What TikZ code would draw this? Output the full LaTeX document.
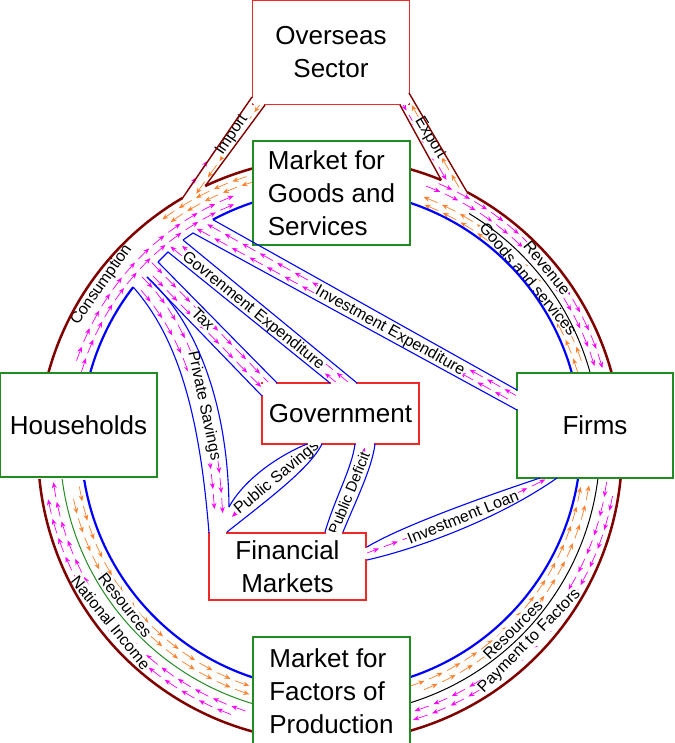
\documentclass[tikz,border=0pt]{standalone}
\usepackage{fontspec}
\setmainfont{Liberation Sans}
\usepackage{tikz}
\usetikzlibrary{calc}
\usetikzlibrary{arrows.meta}
\usetikzlibrary{decorations.markings}
\definecolor{mag}{RGB}{255,0,255}
\definecolor{org}{RGB}{255,127,42}
\definecolor{brn}{RGB}{128,0,0}
\definecolor{grn}{RGB}{34,139,34}
\definecolor{redb}{RGB}{240,40,40}
\tikzset{>=latex}
\tikzset{
  flowrow/.style n args={3}{decorate, decoration={markings,
      mark=between positions #2 and 1 step #3 with {\draw[#1, line width=0.7pt, -{Stealth[length=6pt,width=4.8pt]}] (-8pt,0) -- (7pt,0);}}},
  sector/.style={draw=grn, fill=white, line width=1.2pt, minimum width=157pt, inner sep=0pt, align=center, font=\fontsize{26}{33}\selectfont},
  sectorr/.style={sector, draw=redb},
  lab/.style={fill=white, inner sep=0.8pt, font=\fontsize{16}{19}\selectfont},
  chan/.style={draw=blue, line width=1.1pt},
  ringb/.style={draw=blue, line width=2.2pt},
  ringo/.style={draw=brn, line width=2.5pt},
  walled/.style={draw=brn, line width=1.4pt},
  opening/.style={draw=white, line width=2pt}
}

\begin{document}
\begin{tikzpicture}[x=1pt, y=1pt]
\useasboundingbox (0,0) rectangle (674,743);
\coordinate (Co) at (330,293);
\coordinate (Ci) at (331,303);
\coordinate (Cm) at (330,298);

% flows round the ring
\foreach \r/\p in {279/0.02, 287/0.06}
  \path[flowrow={mag}{\p}{20pt}] (Cm) ++(252:\r) arc[start angle=252, end angle=189, radius=\r];
\foreach \r/\p in {254/0.02, 262/0.06}
  \path[flowrow={org}{\p}{20pt}] (Cm) ++(190:\r) arc[start angle=190, end angle=251, radius=\r];
\foreach \r/\p in {254/0.02, 262/0.06}
  \path[flowrow={org}{\p}{20pt}] (Cm) ++(289:\r) arc[start angle=289, end angle=351, radius=\r];
\foreach \r/\p in {279/0.02, 287/0.06}
  \path[flowrow={mag}{\p}{20pt}] (Cm) ++(352:\r) arc[start angle=352, end angle=288, radius=\r];
\foreach \r/\p in {258/0.02, 265/0.06}
  \path[flowrow={org}{\p}{20pt}] (Cm) ++(17:\r) arc[start angle=17, end angle=71, radius=\r];
\foreach \r/\p in {276/0.02, 283/0.06}
  \path[flowrow={mag}{\p}{20pt}] (Cm) ++(69:\r) arc[start angle=69, end angle=16, radius=\r];
\foreach \r/\p in {259/0.02, 267/0.06}
  \path[flowrow={mag}{\p}{20pt}] (Cm) ++(163:\r) arc[start angle=163, end angle=111, radius=\r];
\foreach \r/\p in {274/0.02, 281/0.1}
  \path[flowrow={org}{\p}{20pt}] (Cm) ++(107:\r) arc[start angle=107, end angle=126, radius=\r];

% import and export
\path[flowrow={org}{0.04}{20pt}] (261,640) -- (196,549);
\path[flowrow={mag}{0.1}{20pt}] (189,555) -- (222,603);
\path[flowrow={org}{0.04}{20pt}] (457,559) -- (407,646);
\path[flowrow={mag}{0.04}{20pt}] (401,642) -- (451,555);

% flows in the channels
\path[flowrow={mag}{0.02}{20pt}] (517,347) -- (205,520);
\path[flowrow={mag}{0.05}{20pt}] (517,339) -- (201,512);
\path[flowrow={mag}{0.02}{20pt}] (345.5,363) -- (178.5,500);
\path[flowrow={mag}{0.06}{20pt}] (340.5,357) -- (173.5,494);
\path[flowrow={mag}{0.02}{20pt}] (155,477) -- (273,356);
\path[flowrow={mag}{0.08}{20pt}] (149,471) -- (267,350);
\path[flowrow={mag}{0.02}{20pt}] (144,464) .. controls (194,414) and (218,330) .. (223,223);
\path[flowrow={mag}{0.06}{20pt}] (136,458) .. controls (186,406) and (210,326) .. (215,223);
\path[flowrow={mag}{0.03}{20pt}] (315,299) .. controls (295,280) and (262,257) .. (228,222);
\path[flowrow={mag}{0.03}{20pt}] (334,211) .. controls (346,245) and (362,275) .. (365,299);
\path[flowrow={mag}{0.03}{20pt}] (367,190) .. controls (410,206) and (490,235) .. (548,265);

% labels
\node[lab, rotate=55] (lcons) at ($(Cm)+(145:279)$) {Consumption};
\node[lab, rotate=-51] (lnat) at ($(Cm)+(219:282)$) {National Income};
\node[lab, rotate=-52] (lresl) at ($(Cm)+(218:260)$) {Resources};
\node[lab, rotate=45.5] (lpay) at ($(Cm)+(315.5:280)$) {Payment to Factors};
\node[lab, rotate=44.7] (lresr) at ($(Cm)+(314.7:260)$) {Resources};
\node[lab, rotate=-50.8] (lrev) at ($(Cm)+(39.2:280)$) {Revenue};
\node[lab, rotate=-50] (lgs) at ($(Cm)+(40:259)$) {Goods and services};
\node[lab, rotate=56] (limp) at (232,608) {Import};
\node[lab, rotate=-59] (lexp) at (430,605) {Export};
\node[lab, rotate=-29] (linv) at (390,412) {Investment Expenditure};
\node[lab, rotate=-39] (lgov) at (253,432) {Govrenment Expenditure};
\node[lab, rotate=-45] (ltax) at (203,424) {Tax};
\node[lab, rotate=-78] (lpriv) at (204,337) {Private Savings};
\node[lab, rotate=40] (lpub) at (277,265) {Public Savings};
\node[lab, rotate=68, font=\fontsize{15}{18}\selectfont] (ldef) at (349,250) {Public Deficit};
\node[lab, rotate=22] (lloan) at (463,226) {Investment Loan};

% outer ring
\path (Co) ++(120.3:292) coordinate (imo) (Co) ++(115.3:292) coordinate (imv)
      (Co) ++(62:292) coordinate (exo) (Co) ++(67.6:292) coordinate (exv);
\draw[ringo] (Co) ++(74.2:292) arc[start angle=74.2, end angle=67.6, radius=292];
\draw[ringo] (Co) ++(62:292) arc[start angle=62, end angle=15.3, radius=292];
\draw[ringo] (Co) ++(354.3:292) arc[start angle=354.3, end angle=285.9, radius=292];
\draw[ringo] (Co) ++(254.6:292) arc[start angle=254.6, end angle=185.7, radius=292];
\draw[ringo] (Co) ++(164.8:292) arc[start angle=164.8, end angle=120.3, radius=292];
\draw[ringo] (Co) ++(115.3:292) arc[start angle=115.3, end angle=105.2, radius=292];

% inner ring
\draw[ringb] (Ci) ++(108.1:250) arc[start angle=108.1, end angle=118.2, radius=250] coordinate (ie0);
\draw[ringb] (Ci) ++(71.5:250) arc[start angle=71.5, end angle=15.5, radius=250];
\draw[ringb] (Ci) ++(351.3:250) arc[start angle=351.3, end angle=288.4, radius=250];
\draw[ringb] (Ci) ++(251.7:250) arc[start angle=251.7, end angle=189.2, radius=250];
\draw[ringb] (Ci) ++(164.5:250) arc[start angle=164.5, end angle=142.3, radius=250] coordinate (ps0);

% lane dividers
\draw[grn, line width=1pt] (Cm) ++(187.2:270) arc[start angle=187.2, end angle=253.6, radius=270];
\draw[black, line width=1pt] (Cm) ++(353:270) arc[start angle=353, end angle=287.4, radius=270];
\draw[black, line width=1pt] (Cm) ++(59:270) arc[start angle=59, end angle=15.4, radius=270];

% sectors
\node[sectorr, minimum height=104pt] (overseas) at (331,690.5) {Overseas\\Sector};
\node[sector, minimum height=104pt, align=left] (goods) at (331.5,550) {Market for\\Goods and\\Services};
\node[sector, minimum height=104pt] (house) at (78.5,318) {Households};
\node[sector, minimum width=156pt, minimum height=105pt] (firms) at (595,317.5) {Firms};
\node[sectorr, minimum height=61pt] (govt) at (340.5,329.5) {Government};
\node[sectorr, minimum height=67pt] (fin) at (287.5,176.5) {Financial\\Markets};
\node[sector, minimum height=108pt, align=left] (factors) at (331.5,52) {Market for\\Factors of\\Production};

% openings where the channels enter the sectors
\draw[opening] (254,639) -- (264,639) (253,640) -- (253,645);
\draw[opening] (401,639) -- (408,639) (409,640) -- (409,649);
\draw[opening] (263,360) -- (276,360) (262,348) -- (262,359);
\draw[opening] (331,360) -- (356,360);
\draw[opening] (308,299) -- (321,299) (356,299) -- (374,299);
\draw[opening] (210,210) -- (226,210) (326,210) -- (342,210);
\draw[opening] (366,184) -- (366,195);
\draw[opening] (517,334) -- (517,352);

% import and export walls
\draw[walled] (252,646) -- (imo);
\draw[walled] (265,638) -- (imv);
\draw[walled] (409,650) -- (exo);
\draw[walled] (400,638) -- (exv);

% channel walls
\coordinate (w1a) at (183,503);
\coordinate (w1b) at (193,510);
\coordinate (w2a) at (158,481);
\coordinate (w2b) at (168,491);
\coordinate (w3) at (147,466);
\draw[chan] (ie0) -- (517,353);
\draw[chan] (w1a) -- (w1b) -- (517,333);
\draw[chan] (w1a) -- (357,360);
\draw[chan] (w2a) -- (w2b) -- (330,360);
\draw[chan] (w2a) -- (277,360);
\draw[chan] (w3) -- (262,347);
\draw[chan] (w3) .. controls (200,418) and (228,333) .. (229,236) coordinate (ps1);
\draw[chan] (ps0) .. controls (180,403) and (200,323) .. (209,210);
\draw[chan] (ps1) .. controls (245,265) and (280,288) .. (307,299);
\draw[chan] (227,211) .. controls (270,245) and (310,275) .. (322,299);
\draw[chan] (325,211) .. controls (335,245) and (352,275) .. (355,299);
\draw[chan] (343,211) .. controls (357,245) and (372,275) .. (375,299);
\draw[chan] (367,196) .. controls (400,216) and (480,245) .. (540,265);
\draw[chan] (367,183) .. controls (420,195) and (500,225) .. (557,265);
\end{tikzpicture}
\end{document}
